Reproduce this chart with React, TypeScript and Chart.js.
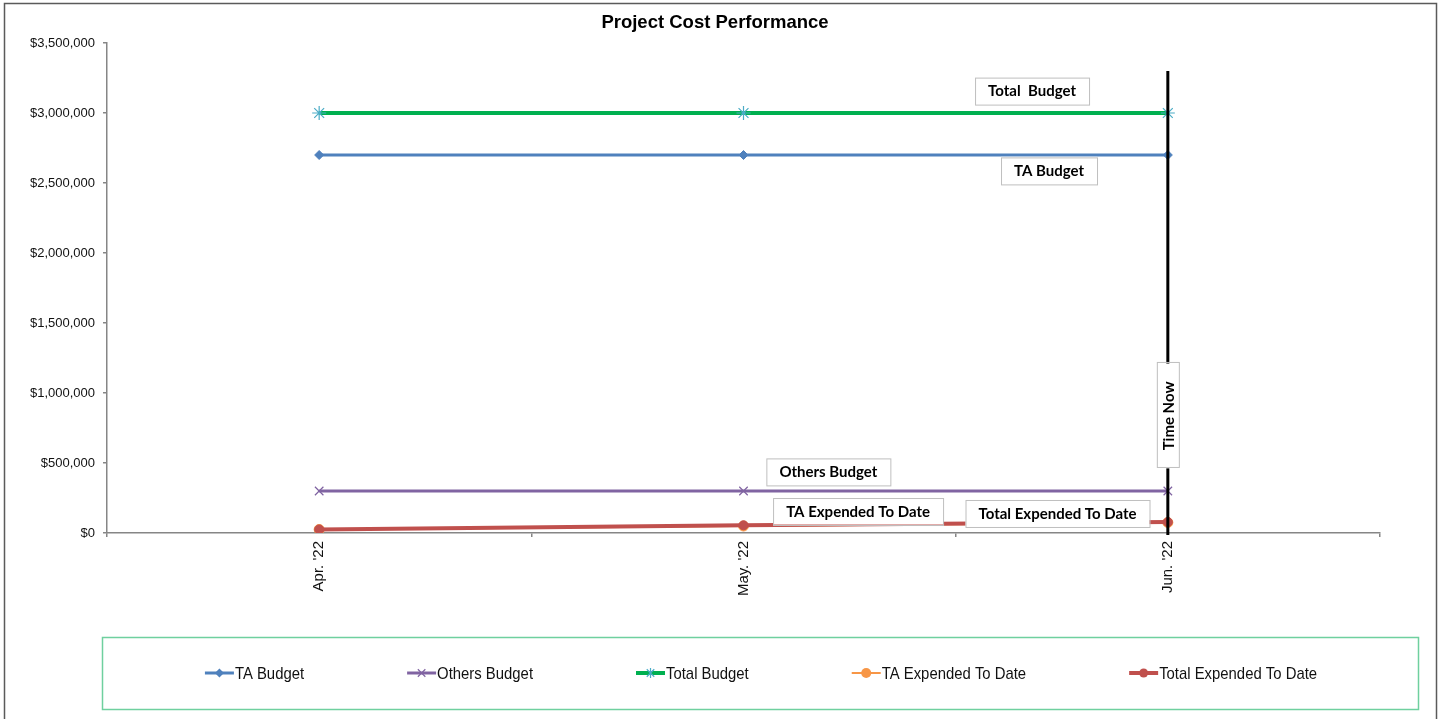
import React, { useEffect, useRef } from 'react';
import { Chart, registerables } from 'chart.js';

Chart.register(...registerables);

const categories = ["Apr. '22", "May. '22", "Jun. '22"];
const taBudget = [2700000, 2700000, 2700000];
const othersBudget = [300000, 300000, 300000];
const totalBudget = [3000000, 3000000, 3000000];
const taExpended = [25000, 50000, 75000];
const totalExpended = [25000, 55000, 78000];

const yMin = 0;
const yMax = 3500000;
const yStep = 500000;

const chartTitle = 'Project Cost Performance';
const timeNowIndex = 2;
const timeNowTop = 3300000;

const calloutTexts = ['Total  Budget', 'TA Budget', 'Others Budget', 'TA Expended To Date', 'Total Expended To Date', 'Time Now'];
const calloutIndex = [1.68, 1.72, 1.2, 1.27, 1.74, 2.0];
const calloutValue = [3160000, 2590000, 440000, 157000, 143000, 836000];
const calloutVertical = [false, false, false, false, false, true];

const FONT = "'Liberation Sans', Arial, sans-serif";
const CALLOUT_FONT = "bold 15px Lato, 'Open Sans', sans-serif";

function drawMarker(ctx: CanvasRenderingContext2D, style: string, x: number, y: number, r: number, fill: string, stroke: string, lw: number) {
  ctx.save();
  ctx.fillStyle = fill;
  ctx.strokeStyle = stroke;
  ctx.lineWidth = lw;
  ctx.beginPath();
  if (style === 'rectRot') {
    ctx.moveTo(x, y - r);
    ctx.lineTo(x + r, y);
    ctx.lineTo(x, y + r);
    ctx.lineTo(x - r, y);
    ctx.closePath();
    ctx.fill();
  } else if (style === 'crossRot') {
    const d = r * 0.75;
    ctx.moveTo(x - d, y - d); ctx.lineTo(x + d, y + d);
    ctx.moveTo(x + d, y - d); ctx.lineTo(x - d, y + d);
    ctx.stroke();
  } else if (style === 'star') {
    const d = r * 0.75;
    ctx.moveTo(x - d, y - d); ctx.lineTo(x + d, y + d);
    ctx.moveTo(x + d, y - d); ctx.lineTo(x - d, y + d);
    ctx.moveTo(x, y - r); ctx.lineTo(x, y + r);
    ctx.stroke();
  } else {
    ctx.arc(x, y, r, 0, Math.PI * 2);
    ctx.fill();
  }
  ctx.restore();
}

const decorPlugin = {
  id: 'decor',
  beforeDraw(chart: any) {
    const ctx = chart.ctx as CanvasRenderingContext2D;
    ctx.save();
    ctx.fillStyle = '#ffffff';
    ctx.fillRect(0, 0, chart.width, chart.height);
    ctx.strokeStyle = '#5a5a5a';
    ctx.lineWidth = 1.5;
    ctx.strokeRect(4.5, 3.5, 1432, 730);
    ctx.fillStyle = '#000';
    ctx.font = `bold 18.5px ${FONT}`;
    ctx.textAlign = 'center';
    ctx.textBaseline = 'middle';
    ctx.fillText(chartTitle, 715, 23);
    ctx.restore();
  },
  afterDatasetsDraw(chart: any) {
    const ctx = chart.ctx as CanvasRenderingContext2D;
    const xs = chart.scales.x;
    const ys = chart.scales.y;
    const tx = xs.getPixelForValue(timeNowIndex);
    ctx.save();
    ctx.strokeStyle = '#000';
    ctx.lineWidth = 3;
    ctx.beginPath();
    ctx.moveTo(tx, ys.getPixelForValue(timeNowTop));
    ctx.lineTo(tx, ys.getPixelForValue(0) + 2);
    ctx.stroke();
    ctx.restore();
    ctx.save();
    ctx.font = CALLOUT_FONT;
    calloutTexts.forEach((t, i) => {
      const cx = xs.getPixelForValue(calloutIndex[i]);
      const cy = ys.getPixelForValue(calloutValue[i]);
      const tw = ctx.measureText(t).width;
      ctx.save();
      ctx.translate(cx, cy);
      if (calloutVertical[i]) ctx.rotate(-Math.PI / 2);
      const w = tw + (calloutVertical[i] ? 36 : 26);
      const h = calloutVertical[i] ? 22 : 27;
      ctx.fillStyle = '#ffffff';
      ctx.fillRect(-w / 2, -h / 2, w, h);
      ctx.strokeStyle = '#bfbfbf';
      ctx.lineWidth = 1;
      ctx.strokeRect(Math.round(-w / 2) + 0.5, Math.round(-h / 2) + 0.5, Math.round(w), Math.round(h));
      ctx.fillStyle = '#000';
      ctx.textAlign = 'center';
      ctx.textBaseline = 'middle';
      ctx.fillText(t, 0, 1);
      ctx.restore();
    });
    ctx.restore();
  },
  afterDraw(chart: any) {
    const ctx = chart.ctx as CanvasRenderingContext2D;
    ctx.save();
    ctx.strokeStyle = '#6fd09f';
    ctx.lineWidth = 1.5;
    ctx.strokeRect(102.5, 637.5, 1316, 72);
    const sx = 0.875;
    ctx.font = `17px ${FONT}`;
    const ds = chart.data.datasets;
    const lineW = 29;
    const gap = 1;
    const spacing = 103;
    const widths = ds.map((d: any) => lineW + gap + ctx.measureText(d.label).width * sx);
    const total = widths.reduce((a: number, b: number) => a + b, 0) + spacing * (ds.length - 1);
    let x = 761 - total / 2;
    const y = 673;
    ds.forEach((d: any, i: number) => {
      ctx.strokeStyle = d.borderColor;
      ctx.lineWidth = d.borderWidth;
      ctx.beginPath();
      ctx.moveTo(x, y);
      ctx.lineTo(x + lineW, y);
      ctx.stroke();
      drawMarker(ctx, d.pointStyle, x + lineW / 2, y, Math.min(d.pointRadius, 5), d.pointBackgroundColor, d.pointBorderColor, d.pointBorderWidth);
      ctx.save();
      ctx.translate(x + lineW + gap, y);
      ctx.scale(sx, 1);
      ctx.fillStyle = '#111';
      ctx.textAlign = 'left';
      ctx.textBaseline = 'middle';
      ctx.fillText(d.label, 0, 1);
      ctx.restore();
      x += widths[i] + spacing;
    });
    ctx.restore();
  },
};

export default function App() {
  const ref = useRef<HTMLCanvasElement | null>(null);
  useEffect(() => {
    document.body.style.margin = '0';
    const canvas = ref.current;
    if (!canvas) return;
    const chart = new Chart(canvas, {
      type: 'line',
      data: {
        labels: categories,
        datasets: [
          {
            label: 'TA Budget', data: taBudget, borderColor: '#4F81BD', backgroundColor: '#4F81BD',
            pointBackgroundColor: '#4F81BD', pointBorderColor: '#4F81BD', pointBorderWidth: 1,
            borderWidth: 3, pointStyle: 'rectRot', pointRadius: 4.5, order: 3,
          },
          {
            label: 'Others Budget', data: othersBudget, borderColor: '#8064A2', backgroundColor: '#8064A2',
            pointBackgroundColor: '#8064A2', pointBorderColor: '#8064A2', pointBorderWidth: 1.2,
            borderWidth: 3, pointStyle: 'crossRot', pointRadius: 6, order: 3,
          },
          {
            label: 'Total Budget', data: totalBudget, borderColor: '#00B050', backgroundColor: '#4BACC6',
            pointBackgroundColor: '#4BACC6', pointBorderColor: '#4BACC6', pointBorderWidth: 1.2,
            borderWidth: 4, pointStyle: 'star', pointRadius: 7, order: 3,
          },
          {
            label: 'TA Expended To Date', data: taExpended, borderColor: '#F79646', backgroundColor: '#F79646',
            pointBackgroundColor: '#F79646', pointBorderColor: '#F79646', pointBorderWidth: 1,
            borderWidth: 2, pointStyle: 'circle', pointRadius: 5, order: 2,
          },
          {
            label: 'Total Expended To Date', data: totalExpended, borderColor: '#C0504D', backgroundColor: '#C0504D',
            pointBackgroundColor: '#C0504D', pointBorderColor: '#C0504D', pointBorderWidth: 1,
            borderWidth: 4, pointStyle: 'circle', pointRadius: 4.5, order: 1,
          },
        ],
      },
      options: {
        responsive: false,
        animation: false,
        events: [],
        layout: { padding: { left: 0, right: 63, top: 43, bottom: 0 } },
        plugins: { legend: { display: false }, tooltip: { enabled: false }, title: { display: false } },
        elements: { line: { tension: 0 } },
        scales: {
          x: {
            type: 'category',
            offset: true,
            grid: { offset: true, drawOnChartArea: false, drawTicks: true, tickLength: 4, color: '#868686', lineWidth: 1.5 },
            border: { display: true, color: '#868686', width: 1.5 },
            ticks: { maxRotation: 90, minRotation: 90, padding: 4, color: '#111', font: { family: FONT, size: 15 }, autoSkip: false },
            afterFit: (s: any) => { s.height = 186; },
          },
          y: {
            min: yMin,
            max: yMax,
            grid: { drawOnChartArea: false, drawTicks: true, tickLength: 4, color: '#868686', lineWidth: 1.5 },
            border: { display: true, color: '#868686', width: 1.5 },
            ticks: {
              stepSize: yStep,
              padding: 8,
              color: '#111',
              font: { family: FONT, size: 13 },
              callback: (v: any) => '$' + Number(v).toLocaleString('en-US'),
            },
            afterFit: (s: any) => { s.width = 107; },
          },
        },
      },
      plugins: [decorPlugin],
    } as any);
    return () => chart.destroy();
  }, []);
  return <canvas ref={ref} width={1443} height={719} style={{ display: 'block' }} />;
}
